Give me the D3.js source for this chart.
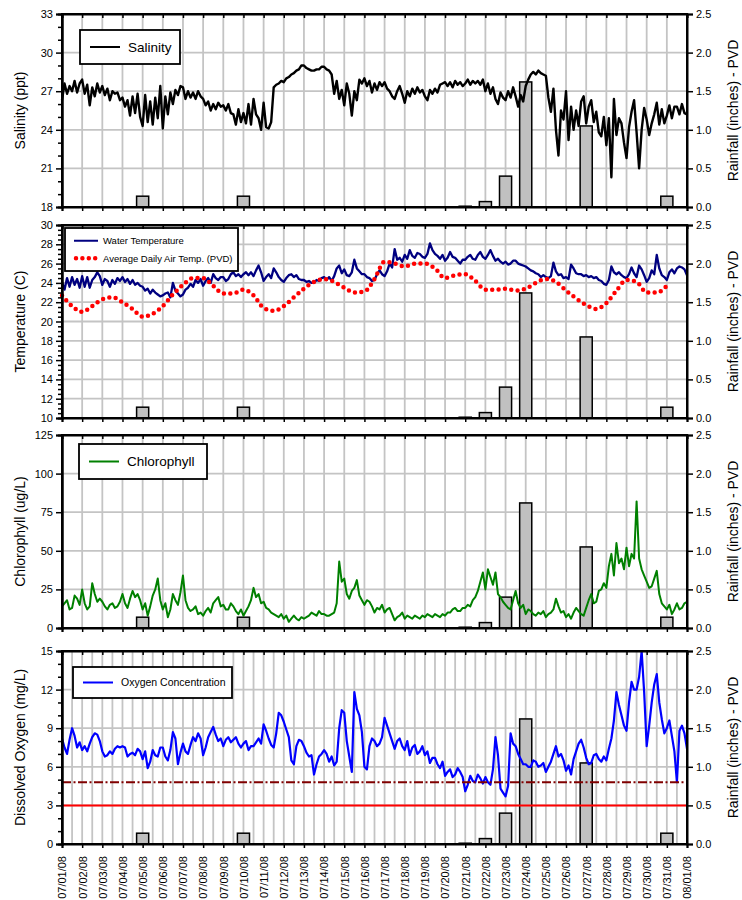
<!DOCTYPE html>
<html>
<head>
<meta charset="utf-8">
<script src="https://cdn.jsdelivr.net/npm/d3@7"></script>
<style>
  body { margin: 0; background: #fff; }
  text { font-family: "Liberation Sans", Arial, sans-serif; fill: #000; }
</style>
</head>
<body>
<svg id="chart" width="742" height="900"></svg>
<script>
// time axis: 07/01/08 .. 08/01/08, sonde readings every 3 hours
const startDate = Date.UTC(2008, 6, 1);
const endDate = Date.UTC(2008, 7, 1);
const stepHours = 3;
const airStepHours = 12;

// Salinity (ppt), 8 readings per day (one row per day)
const salinity = [
  26.3, 27.6, 26.8, 27.4, 27.0, 27.8, 26.9, 27.6,
  27.9, 26.8, 27.5, 25.9, 27.3, 26.6, 27.6, 26.9,
  27.4, 26.7, 27.2, 26.3, 27.0, 26.8, 26.9, 26.3,
  26.5, 25.8, 26.3, 25.1, 26.6, 25.3, 26.8, 25.0,
  24.3, 26.7, 24.6, 26.2, 24.4, 26.5, 24.9, 27.4,
  24.1, 26.6, 25.2, 26.9, 26.0, 27.1, 26.7, 27.4,
  27.3, 26.4, 27.0, 26.5, 26.9, 26.4, 27.0, 26.6,
  26.4, 25.9, 26.2, 25.5, 26.0, 25.6, 26.1, 25.8,
  25.9, 25.5, 26.0, 25.3, 25.2, 24.4, 25.6, 24.6,
  25.3, 24.5, 26.0, 24.4, 26.4, 25.2, 24.9, 24.0,
  26.1, 24.2, 24.1, 24.6, 27.3, 27.5, 27.6, 27.8,
  27.7, 28.0, 28.1, 28.3, 28.4, 28.6, 28.7, 29.0,
  29.0, 28.8, 28.7, 28.6, 28.6, 28.7, 28.7, 28.9,
  28.9, 28.7, 28.6, 28.3, 26.8, 27.8, 26.4, 27.1,
  25.9, 27.6, 26.8, 25.1, 27.0, 26.3, 27.9, 27.6,
  28.0, 27.4, 27.8, 26.9, 27.6, 27.1, 27.7, 27.4,
  27.7, 27.2, 27.0, 26.6, 26.4, 27.0, 27.4, 26.8,
  26.1, 27.0, 26.6, 27.2, 26.8, 27.3, 26.9, 27.1,
  26.6, 26.3, 27.1, 26.8, 27.2, 26.9, 27.5, 27.6,
  27.7, 27.4, 27.7, 27.3, 27.8, 27.5, 27.7, 27.4,
  27.6, 27.9, 27.5, 27.8, 27.6, 27.8, 27.5, 27.9,
  27.0, 27.6, 26.8, 27.3, 26.4, 26.0, 26.9, 26.5,
  26.3, 27.0, 26.5, 27.3, 26.6, 25.8, 26.7, 26.2,
  27.4, 27.9, 28.3, 28.5, 28.3, 28.6, 28.4, 28.3,
  28.2, 26.5, 25.4, 27.2, 24.0, 22.0, 25.5, 24.8,
  27.0, 23.2, 25.8, 24.0, 25.5, 24.3, 26.2, 26.6,
  24.5, 25.8, 26.3, 24.6, 25.4, 23.8, 23.5, 25.0,
  22.8, 24.9, 20.3, 26.4, 23.6, 24.9, 24.5, 23.0,
  21.8, 24.2, 25.4, 26.3, 23.8, 21.0, 24.0, 25.7,
  24.8, 23.6, 24.5, 25.2, 26.1, 24.4, 25.6, 24.5,
  25.1, 25.9, 24.9, 25.8, 25.8, 25.2, 26.0, 25.3,
  25.2
];

// Water temperature (C)
const waterTemp = [
  24.1, 23.3, 24.5, 23.6, 24.6, 23.8, 24.4, 23.5,
  24.7, 23.6, 24.6, 23.5, 24.3, 24.6, 25.1, 24.7,
  23.8, 24.4, 24.2, 23.6, 24.3, 23.9, 24.5, 24.2,
  24.6, 24.1, 24.4, 23.9, 24.3, 23.8, 24.0, 23.7,
  23.6, 23.2, 23.4, 22.9, 23.3, 23.0, 22.8, 22.6,
  22.7, 22.9, 23.0, 22.5, 24.0, 23.2, 22.9, 22.6,
  22.8, 23.3, 23.5, 23.9, 23.6, 24.3, 24.0, 24.4,
  23.7, 24.2, 24.5, 24.0, 24.9, 24.5, 24.3, 24.6,
  24.6, 24.2, 24.4, 24.9, 25.1, 24.7, 24.9, 24.6,
  24.9, 25.1, 24.8, 25.1, 24.7, 25.3, 25.8, 25.1,
  24.2, 24.6, 24.9, 24.5, 25.5, 25.1, 24.6, 24.3,
  24.1, 24.5, 24.8, 24.9, 24.6, 24.8, 24.4, 24.3,
  24.3, 24.1, 24.2, 24.0, 24.0, 24.3, 24.2, 24.5,
  24.6, 24.3, 24.6, 24.2, 24.7, 25.5, 25.8, 25.0,
  25.4, 24.8, 24.7, 25.1, 26.4, 25.5, 25.2, 24.9,
  24.9, 24.6, 24.5, 24.2, 24.3, 24.9, 25.3, 24.9,
  24.7, 25.2, 26.0, 25.6, 27.5, 26.4, 26.6, 26.2,
  26.9, 26.5, 27.4, 26.8, 26.6, 27.1, 27.0, 26.7,
  26.6, 27.0, 28.1, 27.4, 27.0, 26.8, 26.5, 26.9,
  26.3, 26.6, 27.2, 26.7, 26.6, 26.3, 26.0, 26.4,
  26.4, 26.7, 26.9, 26.5, 26.4, 26.9, 27.2, 26.7,
  26.5, 26.9, 27.4, 26.8, 26.3, 26.5, 26.2, 26.0,
  26.2, 25.9, 26.0, 26.3, 26.3, 26.0, 25.9, 25.8,
  25.7, 25.5, 25.3, 25.2, 25.0, 24.9, 24.6, 24.8,
  24.6, 24.5, 24.7, 26.1, 25.2, 24.8, 24.9, 24.5,
  24.6, 24.4, 25.9, 25.5, 25.0, 24.9, 24.9, 24.7,
  24.8, 24.6, 24.7, 24.5, 24.6, 24.3, 24.2, 23.9,
  23.8, 24.3, 25.7, 25.1, 24.9, 25.1, 24.8, 24.6,
  24.5, 24.9, 25.6, 25.0, 24.6, 25.8, 25.4, 24.8,
  24.1, 24.5, 25.3, 24.9, 26.9, 25.5, 24.8, 24.6,
  24.3, 25.1, 25.4, 25.0, 25.5, 25.7, 25.6, 25.4,
  24.8
];

// Average daily air temperature at PVD (C), every 12 hours
const airTemp = [
  22.7, 21.6, 21.0, 21.6, 22.3, 22.5, 22.0, 21.3, 20.5, 20.8,
  21.6, 22.8, 23.8, 24.5, 24.5, 23.7, 22.9, 22.9, 23.3, 22.7,
  21.4, 21.1, 21.6, 22.5, 23.4, 24.1, 24.4, 24.1, 23.5, 23.0,
  23.1, 24.4, 26.2, 26.0, 25.7, 26.0, 26.0, 25.5, 24.5, 24.8,
  24.9, 24.2, 23.3, 23.3, 23.4, 23.2, 23.4, 24.0, 24.4, 24.1,
  23.2, 22.4, 21.7, 21.3, 21.9, 23.2, 24.3, 24.1, 23.0, 23.0,
  23.7
];

// Chlorophyll (ug/L)
const chlorophyll = [
  14, 16, 18, 12, 13, 21, 19, 15,
  25, 16, 12, 14, 29, 22, 17, 19,
  17, 14, 12, 15, 16, 13, 14, 17,
  22, 16, 13, 19, 24, 20, 22, 18,
  12, 16, 8, 14, 21, 25, 32, 18,
  12, 16, 7, 12, 22, 18, 15, 23,
  34, 18, 13, 11, 12, 14, 9, 10,
  8, 11, 13, 10, 16, 18, 20, 14,
  15, 12, 12, 16, 14, 11, 9, 12,
  8, 11, 14, 18, 26, 20, 22, 16,
  17, 13, 12, 10, 9, 8, 7, 9,
  6, 8, 4, 6, 8, 6, 5, 7,
  6, 7, 8, 10, 9, 8, 11, 9,
  9, 8, 8, 9, 10, 16, 43, 30,
  32, 22, 19, 24, 26, 31, 21, 18,
  15, 18, 17, 14, 10, 13, 12, 15,
  10, 12, 13, 9, 5, 7, 8, 10,
  6, 8, 7, 6, 8, 7, 6, 8,
  7, 9, 8, 7, 9, 8, 7, 9,
  8, 10, 10, 12, 13, 11, 11, 13,
  13, 15, 14, 18, 20, 24, 30, 36,
  25, 38, 33, 28, 36, 22, 20, 17,
  15, 13, 12, 18, 24, 16, 13, 15,
  9, 12, 11, 9, 8, 10, 9, 11,
  7, 9, 10, 12, 19, 14, 10, 11,
  7, 9, 6, 10, 13, 11, 9, 8,
  13, 18, 22, 16, 17, 24, 25, 29,
  26, 40, 48, 34, 55, 42, 45, 38,
  52, 40, 48, 45, 82, 45, 38, 34,
  30, 26, 27, 32, 37, 22, 16, 14,
  12, 15, 9, 12, 16, 12, 13, 16,
  17
];

// Dissolved oxygen (mg/L)
const oxygen = [
  8.2, 7.5, 7.0, 8.1, 9.0, 8.4, 7.5, 7.9,
  7.3, 7.6, 7.2, 7.8, 8.3, 8.6, 8.5, 8.0,
  7.2, 6.8, 6.9, 7.2, 7.0, 7.4, 7.6, 7.5,
  7.6, 7.5, 6.8, 7.0, 7.1, 6.9, 7.4, 7.2,
  6.6, 7.2, 5.9, 6.4, 7.3, 6.9, 6.8, 7.5,
  7.5, 6.8, 6.5, 7.3, 8.7, 8.2, 6.2, 7.1,
  7.8, 7.2, 7.0, 7.7, 8.3, 8.0, 8.6, 8.2,
  6.9, 7.5, 8.3, 8.7, 9.1, 8.5, 8.0, 8.2,
  7.6, 8.1, 8.3, 7.9, 8.1, 8.3, 7.8, 7.5,
  7.8, 8.0, 7.3, 7.6, 7.6, 7.9, 8.2, 7.8,
  9.3, 8.8, 8.2, 7.7, 7.5, 8.6, 10.2, 10.0,
  9.5, 8.9, 8.3, 6.5, 6.2, 7.6, 8.1, 8.0,
  7.6, 7.1, 6.8, 6.9, 5.4, 6.2, 6.8, 7.0,
  7.3, 7.0, 6.4, 6.8, 6.1, 6.4, 9.0, 10.4,
  10.2, 8.0, 6.8, 5.6, 11.8, 10.5, 10.0, 8.7,
  6.0, 5.8, 7.6, 8.2, 8.0, 7.6, 7.8, 8.3,
  9.8, 9.2, 8.6, 8.0, 7.4, 8.0, 8.2, 7.6,
  7.3, 8.0, 6.9, 7.5, 7.7, 7.0, 7.2, 7.6,
  6.9, 7.2, 6.3, 6.7, 6.7, 6.2, 5.9, 6.4,
  5.3, 5.6, 5.8, 5.2, 5.4, 5.9, 5.6, 5.2,
  4.1, 4.6, 5.3, 4.9, 4.8, 5.4, 5.1, 4.7,
  5.2, 4.8, 4.6, 5.8, 8.3, 6.9, 4.3, 4.0,
  3.7, 4.5, 8.6, 7.8, 7.6, 7.0, 6.6, 6.2,
  6.2, 6.0, 6.0, 6.5, 6.4, 6.0, 6.1, 6.3,
  5.6, 6.0, 6.4, 7.0, 7.6, 6.8, 7.0, 6.5,
  5.7, 6.1, 5.4, 6.6, 7.2, 7.8, 8.1, 7.5,
  6.7, 6.2, 6.3, 6.9, 7.0, 6.6, 6.4, 6.8,
  6.5, 7.4, 8.2, 9.6, 11.8, 10.8, 10.0, 9.2,
  8.8, 11.0, 12.6, 12.0, 12.0, 13.0, 15.0, 11.8,
  7.6, 9.2, 11.0, 12.4, 13.2, 11.0, 9.7, 8.6,
  9.0, 9.6, 8.4, 7.2, 4.8, 8.8, 9.2, 8.6,
  7.4
];

// Rainfall at PVD (inches)
const rainDates = ["2008-07-05", "2008-07-10", "2008-07-21", "2008-07-22",
                   "2008-07-23", "2008-07-24", "2008-07-27", "2008-07-31"];
const rainValues = [0.14, 0.14, 0.01, 0.07, 0.40, 1.62, 1.05, 0.14];

// oxygen reference levels (mg/L)
const doLevels = [4.8, 3.0];

const rainTicks = [0, 0.5, 1.0, 1.5, 2.0, 2.5];

const svg = d3.select("#chart");
const left = 62, right = 687, panelH = 193;

const x = d3.scaleUtc().domain([startDate, endDate]).range([left, right]);
const days = d3.utcDay.range(startDate, endDate + 1);
const halfDays = d3.utcHour.every(12).range(startDate, endDate + 1);

const toSeries = (vals, hours) => vals.map((v, i) => ({ t: new Date(startDate + i * hours * 3600e3), v }));
const rain = rainDates.map((d, i) => ({ t: new Date(d + "T00:00:00Z"), v: rainValues[i] }));

const panels = [
  { top: 14, domain: [18, 33], major: d3.range(18, 34, 3), minor: d3.range(18, 33.01, 1),
    title: "Salinity (ppt)", vgrid: days,
    lines: [{ data: toSeries(salinity, stepHours), color: "#000", width: 2.4 }],
    legend: { x: 80, y: 30, w: 100, h: 34, size: 13.5, items: [{ label: "Salinity", color: "#000" }] } },
  { top: 225, domain: [10, 30], major: d3.range(10, 31, 2), minor: d3.range(10, 30.01, 0.5),
    title: "Temperature (C)", vgrid: days,
    lines: [{ data: toSeries(waterTemp, stepHours), color: "#000080", width: 2.3 },
            { data: toSeries(airTemp, airStepHours), color: "#ff0000", width: 4.5, dots: true }],
    legend: { x: 65, y: 228, w: 173, h: 43, size: 9.5,
              items: [{ label: "Water Temperature", color: "#000080" },
                      { label: "Average Daily Air Temp. (PVD)", color: "#ff0000", dots: true }] } },
  { top: 435, domain: [0, 125], major: d3.range(0, 126, 25), minor: [],
    title: "Chlorophyll (ug/L)", vgrid: days,
    lines: [{ data: toSeries(chlorophyll, stepHours), color: "#008000", width: 2 }],
    legend: { x: 79, y: 444, w: 128, h: 35, size: 13.5, items: [{ label: "Chlorophyll", color: "#008000" }] } },
  { top: 651, domain: [0, 15], major: d3.range(0, 16, 3), minor: d3.range(0, 15.01, 1),
    title: "Dissolved Oxygen (mg/L)", vgrid: halfDays, dates: true,
    lines: [{ data: toSeries(oxygen, stepHours), color: "#0000ff", width: 2.2 }],
    legend: { x: 73, y: 667, w: 159, h: 31, size: 10.5, items: [{ label: "Oxygen Concentration", color: "#0000ff" }] } }
];

const barHalf = 0.3 * 86400e3;

panels.forEach(p => {
  const bottom = p.top + panelH;
  const y = d3.scaleLinear().domain(p.domain).range([bottom, p.top]);
  const yr = d3.scaleLinear().domain([0, 2.5]).range([bottom, p.top]);
  const g = svg.append("g");

  // grid
  g.append("g").selectAll("line").data(p.vgrid.slice(1, -1)).join("line")
    .attr("x1", d => x(d)).attr("x2", d => x(d))
    .attr("y1", p.top).attr("y2", bottom)
    .attr("stroke", "#c4c4c4").attr("stroke-width", 1.8);
  g.append("g").selectAll("line").data(p.major.slice(1, -1)).join("line")
    .attr("x1", left).attr("x2", right)
    .attr("y1", d => y(d)).attr("y2", d => y(d))
    .attr("stroke", "#c4c4c4").attr("stroke-width", 1.8);

  // rainfall bars
  g.append("g").selectAll("rect").data(rain).join("rect")
    .attr("x", d => x(d.t.getTime() - barHalf))
    .attr("width", d => x(d.t.getTime() + barHalf) - x(d.t.getTime() - barHalf))
    .attr("y", d => yr(d.v))
    .attr("height", d => yr(0) - yr(d.v))
    .attr("fill", "#c0c0c0").attr("stroke", "#000").attr("stroke-width", 1.5);

  // series: sonde data as lines, air temperature as a dotted curve
  p.lines.forEach(s => {
    const line = d3.line().x(d => x(d.t)).y(d => y(d.v));
    if (s.dots) line.curve(d3.curveMonotoneX);
    const path = g.append("path").datum(s.data)
      .attr("d", line)
      .attr("fill", "none")
      .attr("stroke", s.color)
      .attr("stroke-width", s.width)
      .attr("stroke-linejoin", "round");
    if (s.dots) path.attr("stroke-dasharray", "0 6.4").attr("stroke-linecap", "round");
  });

  // DO reference levels
  if (p.dates) {
    g.append("line").attr("x1", left).attr("x2", right)
      .attr("y1", y(doLevels[0])).attr("y2", y(doLevels[0]))
      .attr("stroke", "#800000").attr("stroke-width", 2)
      .attr("stroke-dasharray", "9 2.5 2 2.5");
    g.append("line").attr("x1", left).attr("x2", right)
      .attr("y1", y(doLevels[1])).attr("y2", y(doLevels[1]))
      .attr("stroke", "#ff0000").attr("stroke-width", 2);
  }

  // legend
  const L = p.legend;
  const lg = g.append("g");
  lg.append("rect").attr("x", L.x).attr("y", L.y).attr("width", L.w).attr("height", L.h)
    .attr("fill", "#fff").attr("stroke", "#000").attr("stroke-width", 1.8);
  const n = L.items.length;
  L.items.forEach((it, i) => {
    const cy = L.y + L.h * (i + 0.5) / n + (n > 1 ? (i === 0 ? 2 : -2) : 0);
    const x0 = L.x + (n > 1 ? 9 : 10), x1 = x0 + (n > 1 ? 24 : 30);
    const ln = lg.append("line").attr("x1", x0).attr("x2", x1).attr("y1", cy).attr("y2", cy)
      .attr("stroke", it.color).attr("stroke-width", it.dots ? 4.5 : 2);
    if (it.dots) ln.attr("stroke-dasharray", "0 6.4").attr("stroke-linecap", "round").attr("x1", x0 + 2);
    lg.append("text").attr("x", x1 + (n > 1 ? 5 : 8)).attr("y", cy).attr("dy", "0.35em")
      .style("font-size", L.size + "px").text(it.label);
  });

  // frame
  g.append("rect").attr("x", left).attr("y", p.top).attr("width", right - left).attr("height", panelH)
    .attr("fill", "none").attr("stroke", "#000").attr("stroke-width", 2);

  // left axis
  g.append("g").attr("transform", `translate(${left},0)`)
    .call(d3.axisLeft(y).tickValues(p.major).tickSize(6).tickPadding(3).tickFormat(d3.format("d")));
  g.append("g").attr("transform", `translate(${left},0)`)
    .call(d3.axisLeft(y).tickValues(p.minor.filter(v => !p.major.includes(v))).tickSize(4).tickFormat(""));

  // right axis (rainfall)
  g.append("g").attr("transform", `translate(${right},0)`)
    .call(d3.axisRight(yr).tickValues(rainTicks).tickSize(6).tickPadding(3).tickFormat(d3.format(".1f")));

  // top / bottom day ticks
  g.append("g").attr("transform", `translate(0,${p.top})`)
    .call(d3.axisTop(x).tickValues(days).tickSize(-4).tickFormat(""));
  const bx = g.append("g").attr("transform", `translate(0,${bottom})`)
    .call(d3.axisBottom(x).tickValues(days).tickSize(4)
      .tickFormat(p.dates ? d3.utcFormat("%m/%d/%y") : ""));
  if (p.dates) {
    bx.selectAll("text")
      .attr("transform", "rotate(-90)")
      .attr("x", -12).attr("y", 0).attr("dy", "0.35em")
      .style("text-anchor", "end");
  }

  g.selectAll(".domain").attr("stroke-width", 2);
  g.selectAll(".tick line").attr("stroke", "#000").attr("stroke-width", 1.5);
  g.selectAll(".tick text").style("font-size", "11px").attr("fill", "#000");

  // axis titles
  const mid = (p.top + bottom) / 2;
  g.append("text").attr("transform", `translate(20,${mid}) rotate(-90)`)
    .attr("dy", "0.35em").style("text-anchor", "middle").style("font-size", "14px").text(p.title);
  g.append("text").attr("transform", `translate(733,${mid}) rotate(-90)`)
    .attr("dy", "0.35em").style("text-anchor", "middle").style("font-size", "14px").text("Rainfall (inches) - PVD");
});
</script>
</body>
</html>
